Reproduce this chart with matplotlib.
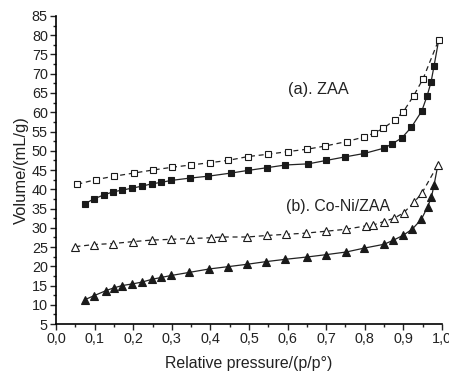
import numpy as np
import matplotlib.pyplot as plt
from matplotlib.ticker import MultipleLocator, FuncFormatter

plt.rcParams['font.family'] = ['Liberation Sans', 'DejaVu Sans']

# (a) ZAA adsorption
zaa_ads_x = [0.074, 0.098, 0.123, 0.147, 0.172, 0.198, 0.222, 0.248, 0.273, 0.299, 0.347, 0.395,
             0.453, 0.498, 0.547, 0.594, 0.654, 0.701, 0.749, 0.799, 0.851, 0.871, 0.896, 0.921,
             0.948, 0.962, 0.972, 0.980]
zaa_ads_y = [36.2, 37.5, 38.5, 39.3, 39.8, 40.3, 40.8, 41.4, 41.8, 42.3, 42.9, 43.4,
             44.2, 44.9, 45.6, 46.3, 46.6, 47.5, 48.4, 49.3, 50.7, 51.8, 53.3, 56.1,
             60.3, 64.3, 67.8, 72.1]
# (a) ZAA desorption
zaa_des_x = [0.055, 0.103, 0.151, 0.201, 0.251, 0.300, 0.349, 0.399, 0.446, 0.498, 0.550, 0.602,
             0.651, 0.696, 0.754, 0.799, 0.825, 0.848, 0.878, 0.900, 0.927, 0.951, 0.992]
zaa_des_y = [41.3, 42.5, 43.4, 44.2, 45.0, 45.7, 46.3, 46.9, 47.5, 48.5, 49.1, 49.8,
             50.4, 51.2, 52.4, 53.6, 54.6, 55.8, 58.0, 60.1, 64.3, 68.6, 78.8]
# (b) Co-Ni/ZAA adsorption
coni_ads_x = [0.074, 0.097, 0.130, 0.150, 0.172, 0.197, 0.223, 0.248, 0.273, 0.298, 0.345, 0.397,
              0.446, 0.494, 0.544, 0.594, 0.650, 0.699, 0.752, 0.798, 0.850, 0.873, 0.899, 0.923,
              0.947, 0.963, 0.973, 0.980]
coni_ads_y = [11.3, 12.3, 13.7, 14.4, 15.0, 15.4, 15.9, 16.6, 17.1, 17.6, 18.4, 19.3,
              19.9, 20.5, 21.2, 21.8, 22.4, 23.0, 23.7, 24.7, 25.7, 26.7, 28.0, 29.6,
              32.2, 35.4, 37.9, 41.2]
# (b) Co-Ni/ZAA desorption
coni_des_x = [0.050, 0.099, 0.148, 0.199, 0.248, 0.299, 0.348, 0.402, 0.430, 0.496, 0.547, 0.597,
              0.647, 0.700, 0.751, 0.804, 0.822, 0.849, 0.877, 0.901, 0.928, 0.949, 0.990]
coni_des_y = [25.1, 25.65, 25.9, 26.4, 26.8, 27.0, 27.2, 27.4, 27.6, 27.6, 28.0, 28.3,
              28.6, 29.1, 29.6, 30.5, 30.7, 31.6, 32.5, 33.9, 36.6, 39.1, 46.4]

fig = plt.figure(figsize=(4.49, 3.72), dpi=100)
ax = fig.add_axes([0.125, 0.129, 0.859, 0.828])

# solid adsorption lines run up to the shared top point
ax.plot(zaa_ads_x + [zaa_des_x[-1]], zaa_ads_y + [zaa_des_y[-1]], '-', color='#222222', lw=0.9)
ax.plot(coni_ads_x + [coni_des_x[-1]], coni_ads_y + [coni_des_y[-1]], '-', color='#222222', lw=0.9)
ax.plot(zaa_des_x, zaa_des_y, '--', color='#222222', lw=0.9, dashes=(4, 3))
ax.plot(coni_des_x, coni_des_y, '--', color='#222222', lw=0.9, dashes=(4, 3))

ax.plot(zaa_ads_x, zaa_ads_y, 's', ms=5, mfc='#1a1a1a', mec='#1a1a1a', mew=0.8, ls='none')
ax.plot(zaa_des_x, zaa_des_y, 's', ms=5, mfc='white', mec='#1a1a1a', mew=0.8, ls='none')
ax.plot(coni_ads_x, coni_ads_y, '^', ms=6, mfc='#1a1a1a', mec='#1a1a1a', mew=0.8, ls='none')
ax.plot(coni_des_x, coni_des_y, '^', ms=6, mfc='white', mec='#1a1a1a', mew=0.8, ls='none')

ax.text(0.601, 66.0, '(a). ZAA', fontsize=11.7, va='center', color='#222222')
ax.text(0.596, 35.6, '(b). Co-Ni/ZAA', fontsize=11.4, va='center', color='#222222')

ax.set_xlim(0, 1.0)
ax.set_ylim(5, 85)
ax.xaxis.set_major_locator(MultipleLocator(0.1))
ax.xaxis.set_minor_locator(MultipleLocator(0.05))
ax.yaxis.set_major_locator(MultipleLocator(5))
ax.yaxis.set_minor_locator(MultipleLocator(2.5))
ax.xaxis.set_major_formatter(FuncFormatter(lambda v, p: ('%.1f' % v).replace('.', ',')))
ax.tick_params(which='major', direction='out', length=4, width=1, labelsize=10.4,
               colors='#222222', pad=2)
ax.tick_params(which='minor', direction='out', length=2.5, width=1, colors='#222222')

ax.spines['top'].set_visible(False)
ax.spines['right'].set_visible(False)
ax.spines['left'].set_linewidth(1.2)
ax.spines['bottom'].set_linewidth(1.2)

ax.set_xlabel('Relative pressure/(p/p°)', fontsize=11.4, color='#222222', labelpad=7)
ax.set_ylabel('Volume/(mL/g)', fontsize=11.9, color='#222222', labelpad=2)

fig.savefig('out.png', dpi=100)
